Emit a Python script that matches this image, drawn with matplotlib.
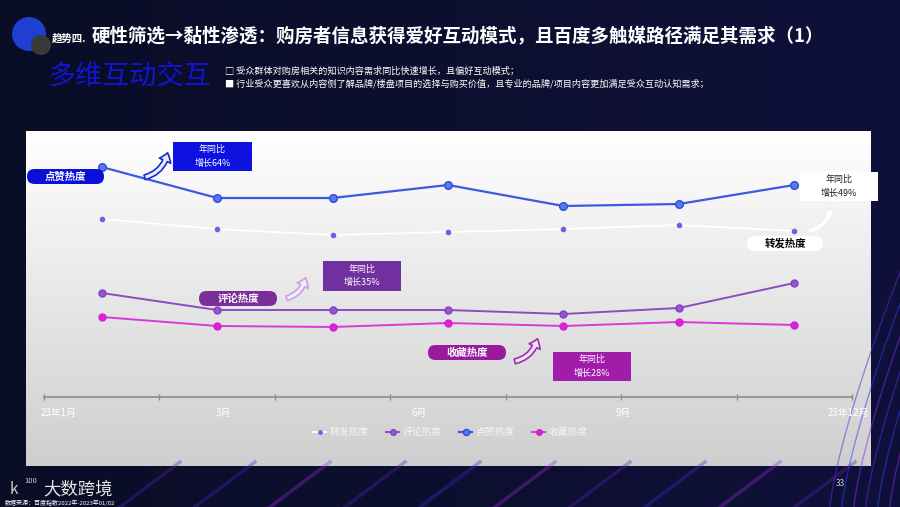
import numpy as np
import matplotlib
matplotlib.use("Agg")
import matplotlib.pyplot as plt
from matplotlib.patches import FancyBboxPatch, FancyArrowPatch, Circle, Rectangle

plt.rcParams['font.family'] = ['Noto Sans CJK SC', 'DejaVu Sans']

# 数据（从图中读取的相对热度）
periods = ['P1', 'P2', 'P3', 'P4', 'P5', 'P6', 'P7']
share_vals = [178, 168, 162, 165, 168, 172, 166]      # 转发热度
comment_vals = [104, 87, 87, 87, 83, 89, 114]         # 评论热度
like_vals = [230, 199, 199, 212, 191, 193, 212]       # 点赞热度
collect_vals = [80, 71, 70, 74, 71, 75, 72]           # 收藏热度
series_names = ['转发热度', '评论热度', '点赞热度', '收藏热度']
month_labels = ['23年1月', '3月', '6月', '9月', '23年12月']
month_pos = [-0.37, 1.05, 2.75, 4.52, 6.47]

W, H = 900, 507
fig = plt.figure(figsize=(9, 5.07), dpi=100)

# ---- 背景 ----
bg = fig.add_axes([0, 0, 1, 1], zorder=0)
bg.set_xlim(0, W)
bg.set_ylim(H, 0)
bg.axis('off')
yy, xx = np.mgrid[0:H, 0:W]
base = np.zeros((H, W, 3))
base[..., 0] = 10 + 6 * xx / W
base[..., 1] = 13 + 4 * xx / W
base[..., 2] = 38 + 20 * xx / W
bg.imshow(base / 255, extent=(0, W, H, 0), aspect='auto', zorder=0)

# 底部和右侧的光线条纹
t = np.linspace(0, 1, 100)
for k in range(7):
    x0 = 830 + k * 12
    xs = x0 + 80 * t ** 1.3
    ys = 507 - 260 * t
    bg.plot(xs, ys, color=['#5a2bd8', '#2f3ee8', '#8a2be2'][k % 3], lw=1.0, alpha=0.5)
for k in range(10):
    x0 = 120 + k * 75
    xs = x0 + 60 * t
    ys = 507 - 45 * t
    bg.plot(xs, ys, color=['#5c1fb0', '#3a2ad0', '#9a2ad8'][k % 3], lw=2.5, alpha=0.35)

# 面板
grad = np.linspace(1.0, 0.81, 200)[:, None] * np.ones((1, 10))
bg.imshow(np.dstack([grad, grad, grad]), extent=(26, 871, 466, 131), aspect='auto', zorder=1)

# ---- 图表 ----
ax = fig.add_axes([44 / W, (H - 397) / H, 808 / W, 266 / H], zorder=2)
ax.patch.set_alpha(0)
x = np.arange(len(periods))
l_share, = ax.plot(x, share_vals, color='white', lw=1.3, marker='o', ms=3,
                   mfc='#6f5ce8', mec='#6f5ce8', zorder=3)
l_comment, = ax.plot(x, comment_vals, color='#8a4cc0', lw=1.4, marker='o', ms=5,
                     mfc='#9b55d2', mec='#8040c0', zorder=3)
l_like, = ax.plot(x, like_vals, color='#3c5ae0', lw=1.6, marker='o', ms=5.5,
                  mfc='#5a78f0', mec='#2e4ad8', zorder=3)
l_collect, = ax.plot(x, collect_vals, color='#d63ad8', lw=1.4, marker='o', ms=5,
                     mfc='#e020d8', mec='#d020d0', zorder=3)
ax.set_xlim(-0.5, len(periods) - 0.5)
ax.set_ylim(0, 266)
for s in ['top', 'right', 'left']:
    ax.spines[s].set_visible(False)
ax.spines['bottom'].set_color('#8c8c8c')
ax.spines['bottom'].set_linewidth(1.2)
ax.set_yticks([])
ax.set_xticks(np.arange(-0.5, len(periods)), minor=True)
ax.set_xticks(month_pos)
ax.set_xticklabels(month_labels, color='white', fontsize=7)
ax.tick_params(axis='x', which='major', length=0, pad=8)
ax.tick_params(axis='x', which='minor', length=4, direction='inout', color='#8c8c8c', width=1)

fig.legend([l_share, l_comment, l_like, l_collect], series_names, loc='center',
           bbox_to_anchor=(0.5, (H - 432) / H), ncol=4, frameon=False, fontsize=7,
           labelcolor='#f6f6f6', handlelength=1.4, handletextpad=0.3, columnspacing=1.8,
           markerscale=0.8)

# ---- 注释层（像素坐标）----
ov = fig.add_axes([0, 0, 1, 1], zorder=4)
ov.set_xlim(0, W)
ov.set_ylim(H, 0)
ov.axis('off')
ov.patch.set_alpha(0)


def pill(x0, y0, x1, y1, fc, text, tc, size=7.5):
    h = y1 - y0
    ov.add_patch(FancyBboxPatch((x0, y0), x1 - x0, h, boxstyle=f"round,pad=0,rounding_size={h / 2}",
                                fc=fc, ec='none'))
    ov.text((x0 + x1) / 2, (y0 + y1) / 2, text, color=tc, fontsize=size, fontweight='bold',
            ha='center', va='center')


def box(x0, y0, x1, y1, fc, text, tc):
    ov.add_patch(Rectangle((x0, y0), x1 - x0, y1 - y0, fc=fc, ec='none'))
    ov.text((x0 + x1) / 2, (y0 + y1) / 2, text, color=tc, fontsize=6.5,
            ha='center', va='center', linespacing=1.6)


def up_arrow(p0, p1, ec, fc):
    ov.add_patch(FancyArrowPatch(p0, p1, connectionstyle="arc3,rad=0.35",
                                 arrowstyle="simple,head_length=6,head_width=9,tail_width=3.5",
                                 mutation_scale=1, fc=fc, ec=ec, lw=1.2))


pill(27, 169, 104, 184, '#0b10d8', '点赞热度', 'white')
box(173, 142, 252, 171, '#0d12e0', '年同比\n增长64%', 'white')
up_arrow((142, 178), (168, 150), '#1a2ad0', '#e8ecff')

pill(199, 291, 277, 306, '#7a2e9a', '评论热度', 'white')
box(323, 261, 401, 291, '#7030a0', '年同比\n增长35%', 'white')
up_arrow((284, 299), (306, 275), '#c9a0e8', '#f4ecfb')

pill(428, 345, 506, 360, '#9a1a9e', '收藏热度', 'white')
box(553, 352, 631, 381, '#a21caa', '年同比\n增长28%', 'white')
up_arrow((512, 362), (538, 336), '#9b2fae', '#f2e4f4')

pill(747, 236, 823, 251, 'white', '转发热度', 'black')
box(800, 172, 878, 201, 'white', '年同比\n增长49%', '#222222')
up_arrow((805, 232), (832, 205), '#f0f0f0', 'white')

# ---- 标题区 ----
ov.add_patch(Circle((29, 34), 17, fc='#1f3fd0', ec='none'))
ov.add_patch(Circle((41, 45), 10, fc='#3a3a3a', ec='none'))
ov.text(52, 39, '趋势四.', color='white', fontsize=7.5, fontweight='bold', va='center')
ov.text(92, 36, '硬性筛选→黏性渗透：购房者信息获得爱好互动模式，且百度多触媒路径满足其需求（1）',
        color='white', fontsize=13.3, fontweight='bold', va='center')
ov.text(49, 77, '多维互动交互', color='#1414d0', fontsize=19.5, va='center')
ov.text(225, 71, '□ 受众群体对购房相关的知识内容需求同比快速增长，且偏好互动模式；',
        color='white', fontsize=6.6, va='center')
ov.text(225, 84, '■ 行业受众更喜欢从内容侧了解品牌/楼盘项目的选择与购买价值，且专业的品牌/项目内容更加满足受众互动认知需求；',
        color='white', fontsize=6.6, va='center')

# ---- 底部 ----
ov.text(10, 490, 'k', color='#d0d0d0', fontsize=11, va='center')
ov.text(24, 481, '100', color='#d0d0d0', fontsize=5.5, va='center')
ov.text(43, 489, '大数跨境', color='#e6e6e6', fontsize=12.5, va='center')
ov.text(5, 503, '数据来源：百度指数2022年-2023年01/02', color='white', fontsize=4.3, va='center')
ov.text(836, 484, '33', color='#d0d0d0', fontsize=6, va='center')

fig.savefig('out.png', dpi=100)
